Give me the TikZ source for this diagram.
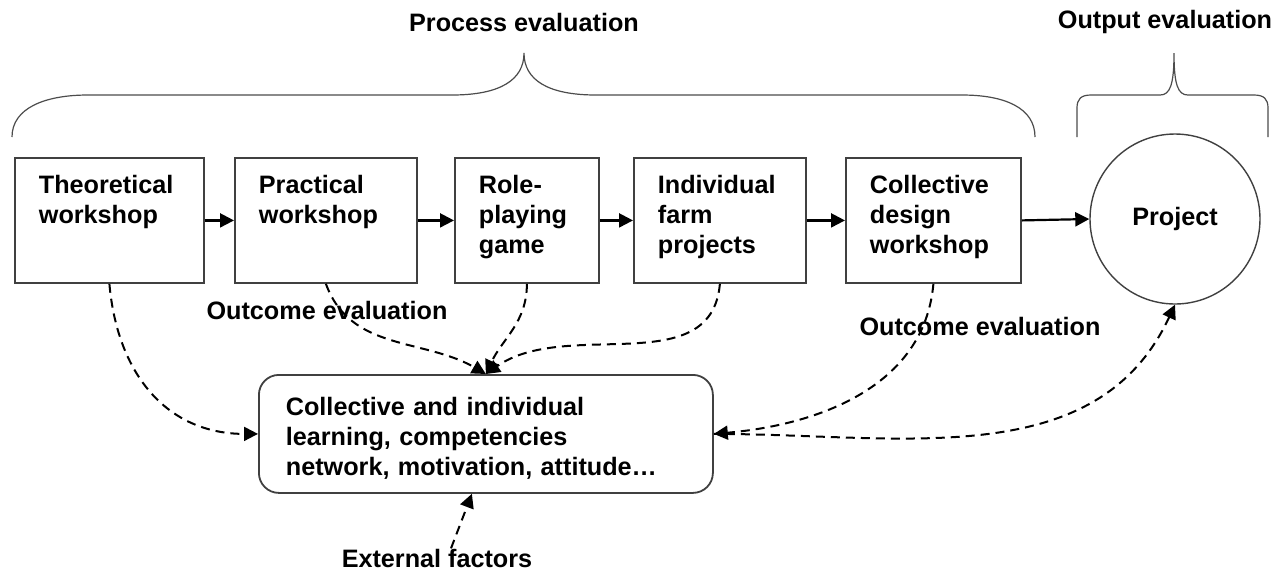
\documentclass[tikz,border=0pt]{standalone}
\usepackage{fontspec}
\setmainfont{Liberation Sans}
\usetikzlibrary{arrows.meta}

\begin{document}
\begin{tikzpicture}[x=0.5pt, y=-0.5pt, font=\fontsize{12.6}{15}\selectfont\bfseries]
  \tikzset{
    stepbox/.style={draw=black!75, line width=0.9pt, anchor=north west, align=left,
      inner xsep=12pt, inner ysep=8pt, text height=10pt, text depth=36.5pt},
    learnbox/.style={draw=black!75, line width=0.9pt, rounded corners=10pt, anchor=north west,
      align=left, inner xsep=13.5pt, inner ysep=10pt, text width=200pt,
      text height=10.5pt, text depth=28.5pt},
    goal/.style={draw=black!75, line width=0.7pt, circle, minimum size=85pt},
    flow/.style={-{Triangle[length=7pt,width=7pt]}, line width=1.1pt},
    effect/.style={-{Triangle[length=7pt,width=7pt]}, dash pattern=on 4.5pt off 3pt, line width=1pt},
    brace/.style={draw=black!70, line width=0.6pt},
    heading/.style={inner sep=0pt}
  }
  \useasboundingbox (0,0) rectangle (1281,570);
  % training steps
  \node[stepbox, text width=70.5pt] (box-1) at (14,157) {Theoretical\\workshop};
  \node[stepbox, text width=67pt] (box-2) at (234,157) {Practical\\workshop};
  \node[stepbox, text width=48pt] (box-3) at (454,157) {Role-\\playing\\game};
  \node[stepbox, text width=62pt] (box-4) at (633,157) {Individual\\farm\\projects};
  \node[stepbox, text width=63.5pt] (box-5) at (845,157) {Collective\\design\\workshop};
  \node[goal] (project) at (1175,219) {Project};
  \node[learnbox] (learn) at (258,374) {Collective and individual\\learning, competencies\\network, motivation, attitude\dots};
  % labels
  \node[heading] (proc-eval) at (524,22) {Process evaluation};
  \node[heading] (out-eval) at (1165,22) {Output evaluation};
  \node[heading] (outc-1) at (327,310) {Outcome evaluation};
  \node[heading] (outc-2) at (980,326) {Outcome evaluation};
  \node[heading] (ext) at (437,558) {External factors};
  % braces
  \draw[brace] (12,137) .. controls (12,108) and (45,95) .. (88,95) -- (452,95)
    .. controls (500,95) and (524,80) .. (524,53)
    .. controls (524,80) and (548,95) .. (596,95) -- (962,95)
    .. controls (1005,95) and (1035,108) .. (1035,137);
  \draw[brace] (1077,137) -- (1077,108) .. controls (1077,99) and (1081,95) .. (1091,95) -- (1160,95)
    .. controls (1170,95) and (1174,85) .. (1174,53)
    .. controls (1174,85) and (1178,95) .. (1188,95) -- (1254,95)
    .. controls (1264,95) and (1268,99) .. (1268,108) -- (1268,137);
  % main sequence
  \draw[flow] (box-1) -- (box-2);
  \draw[flow] (box-2) -- (box-3);
  \draw[flow] (box-3) -- (box-4);
  \draw[flow] (box-4) -- (box-5);
  \draw[flow] (box-5.east) -- (project.west);
  % effects
  \draw[effect] (box-1.south) to[out=-85, in=180, looseness=1.1] (learn.west);
  \draw[effect] (box-2.south) to[out=-70, in=150] (learn.north);
  \draw[effect] (box-3.south) to[out=-90, in=65] (learn.north);
  \draw[effect] (box-4.south) to[out=-95, in=35] (learn.north);
  \draw[effect] (box-5.south) to[out=-95, in=5] (learn.east);
  \draw[effect, {Triangle[length=7pt,width=7pt]}-] (project.south) to[out=-115, in=0] (learn.east);
  \draw[effect] ([xshift=7pt]ext.north) -- ([xshift=-7pt]learn.south);
\end{tikzpicture}
\end{document}
